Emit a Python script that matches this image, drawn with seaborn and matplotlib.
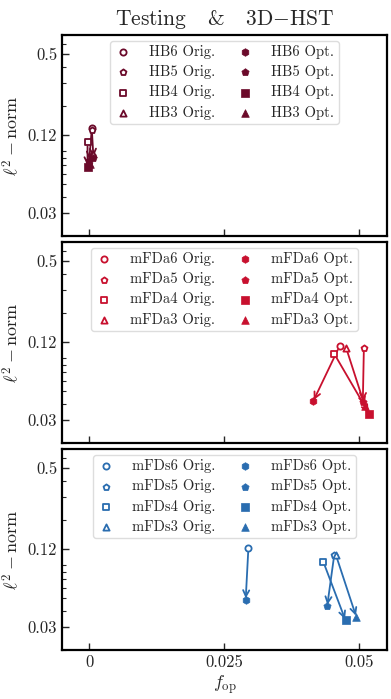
import matplotlib
matplotlib.use("Agg")
import matplotlib.pyplot as plt
import seaborn as sns
import numpy as np

# values
versions = ["6", "5", "4", "3"]
opt_markers = ["h", "p", "s", "^"]
orig_markers = ["o", "p", "s", "^"]

groups = ["HB", "mFDa", "mFDs"]
colors = {"HB": "#6b0a2a", "mFDa": "#c8102e", "mFDs": "#2a6db0"}

# f_op and l2-norm, original -> optimised, order: 6, 5, 4, 3
orig_x = {
    "HB": [0.0005, 0.0005, -0.0003, 0.0007],
    "mFDa": [0.0464, 0.0509, 0.0454, 0.0476],
    "mFDs": [0.0295, 0.0454, 0.0434, 0.0457],
}
orig_y = {
    "HB": [0.135, 0.131, 0.105, 0.085],
    "mFDa": [0.111, 0.108, 0.097, 0.108],
    "mFDs": [0.121, 0.107, 0.095, 0.108],
}
opt_x = {
    "HB": [0.0000, 0.0008, -0.0003, 0.0002],
    "mFDa": [0.0415, 0.0507, 0.0519, 0.0511],
    "mFDs": [0.0290, 0.0441, 0.0475, 0.0495],
}
opt_y = {
    "HB": [0.075, 0.079, 0.068, 0.072],
    "mFDa": [0.0418, 0.0410, 0.0335, 0.0383],
    "mFDs": [0.0487, 0.0435, 0.0338, 0.0359],
}

yticks = [0.03, 0.12, 0.5]
ytick_labels = ["0.03", "0.12", "0.5"]
xticks = [0, 0.025, 0.05]
xtick_labels = ["0", "0.025", "0.05"]


def main():
    sns.set_style("ticks")
    plt.rcParams["font.family"] = "serif"
    plt.rcParams["font.serif"] = ["cmr10", "DejaVu Serif"]
    plt.rcParams["mathtext.fontset"] = "cm"
    plt.rcParams["axes.unicode_minus"] = False
    plt.rcParams["axes.formatter.use_mathtext"] = True

    fig, axes = plt.subplots(3, 1, figsize=(3.91, 6.99), dpi=100, sharex=True)
    fig.subplots_adjust(left=0.159, right=0.99, top=0.95, bottom=0.07, hspace=0.03)

    for ax, g in zip(axes, groups):
        c = colors[g]
        # arrows from original to optimised
        for i in range(len(versions)):
            ax.annotate("", xy=(opt_x[g][i], opt_y[g][i]),
                        xytext=(orig_x[g][i], orig_y[g][i]),
                        arrowprops=dict(arrowstyle="->", color=c, lw=1.3,
                                        shrinkA=3, shrinkB=1,
                                        mutation_scale=11))
        for i, v in enumerate(versions):
            sns.scatterplot(x=[orig_x[g][i]], y=[orig_y[g][i]], ax=ax,
                            marker=orig_markers[i], s=20, facecolor="white",
                            edgecolor=c, linewidth=1.3, zorder=3,
                            label=f"{g}{v} Orig.")
        for i, v in enumerate(versions):
            sns.scatterplot(x=[opt_x[g][i]], y=[opt_y[g][i]], ax=ax,
                            marker=opt_markers[i], s=30, color=c,
                            edgecolor=c, linewidth=0.5, zorder=3,
                            label=f"{g}{v} Opt.")

        ax.set_yscale("log")
        ax.set_ylim(0.02, 0.7)
        ax.set_xlim(-0.005, 0.0552)
        ax.set_yticks(yticks)
        ax.set_yticklabels(ytick_labels)
        ax.yaxis.set_minor_formatter(matplotlib.ticker.NullFormatter())
        ax.set_xticks(xticks)
        ax.set_xticklabels(xtick_labels)
        ax.tick_params(which="both", direction="in", labelsize=12)
        ax.tick_params(which="major", length=5, width=1)
        ax.tick_params(which="minor", length=3, width=0.8)
        ax.set_ylabel(r"$\ell^2-\mathrm{norm}$", fontsize=13, labelpad=4)
        for sp in ax.spines.values():
            sp.set_linewidth(1.6)
            sp.set_color("black")

        ax.legend(loc="upper center", ncol=2, fontsize=10.5, frameon=True,
                  fancybox=True, edgecolor="#dddddd", framealpha=1,
                  columnspacing=1.5, handletextpad=1.25, labelspacing=0.42,
                  borderpad=0.3, handlelength=1.1, borderaxespad=0.4)

    axes[0].set_title("Testing   &   3D$-$HST", fontsize=15.5, pad=7)
    axes[-1].set_xlabel(r"$f_{\mathrm{op}}$", fontsize=13, labelpad=2)

    fig.savefig("out.png", dpi=100)
    plt.close(fig)


if __name__ == "__main__":
    main()
